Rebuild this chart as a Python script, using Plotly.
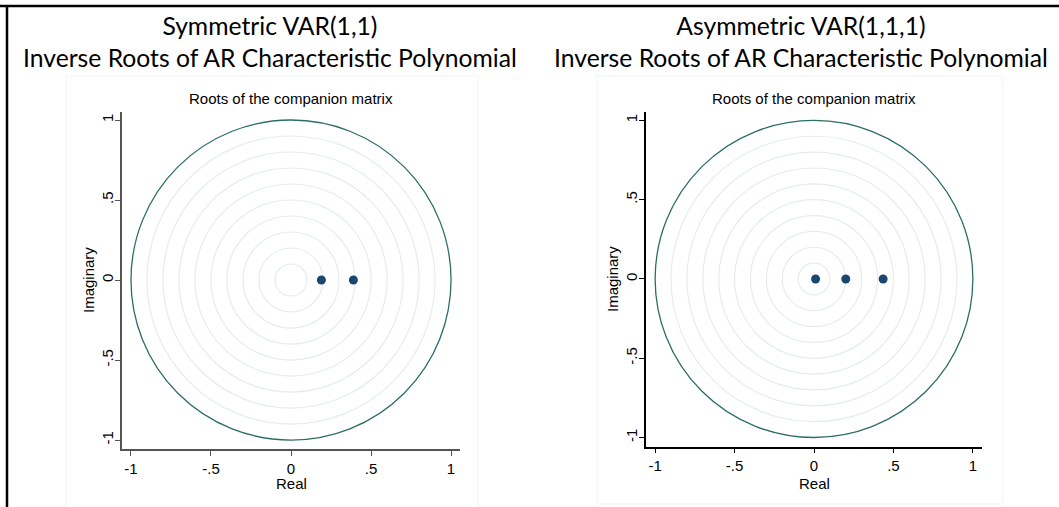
import plotly.graph_objects as go

W, H = 1059, 507

# ---- data ----
panel_titles = ["Symmetric VAR(1,1)<br>Inverse Roots of AR Characteris<span style='color:#000000'>t</span>ic Polynomial",
                "Asymmetric VAR(1,1,1)<br>Inverse Roots of AR Characteris<span style='color:#000000'>t</span>ic Polynomial"]
subtitle = "Roots of the companion matrix"
sym_real = [0.19, 0.39]
sym_imag = [0.0, 0.0]
asym_real = [0.01, 0.20, 0.435]
asym_imag = [0.0, 0.0, 0.0]
grid_radii = [0.1, 0.2, 0.3, 0.4, 0.5, 0.6, 0.7, 0.8, 0.9]
unit_radius = 1.0
tick_vals = [-1, -0.5, 0, 0.5, 1]
tick_text = ["-1", "-.5", "0", ".5", "1"]

# ---- helpers (pixel -> paper) ----
def px(x):
    return x / W

def py(y):
    return 1 - y / H

NAVY = "#1a476f"
TEAL = "#2a6e66"
LIGHT = "#e4eded"
FONT = "Liberation Sans, Arial, sans-serif"

fig = go.Figure()

fig.add_trace(go.Scatter(x=sym_real, y=sym_imag, mode="markers",
                         marker=dict(color=NAVY, size=9), xaxis="x", yaxis="y",
                         showlegend=False, hoverinfo="x+y"))
fig.add_trace(go.Scatter(x=asym_real, y=asym_imag, mode="markers",
                         marker=dict(color=NAVY, size=9), xaxis="x2", yaxis="y2",
                         showlegend=False, hoverinfo="x+y"))

panels = [
    ("x", "y", (122, 460), (112, 449), [-1.056, 1.056], [-1.056, 1.05], "#555555"),
    ("x2", "y2", (645.6, 982.4), (111.7, 446.7), [-1.06, 1.06], [-1.058, 1.055], "#000000"),
]

layout_axes = {}
shapes = []
annotations = []
for i, (xa, ya, xd, yd, xr, yr, acol) in enumerate(panels):
    xkey = "xaxis" if xa == "x" else "xaxis2"
    ykey = "yaxis" if ya == "y" else "yaxis2"
    layout_axes[xkey] = dict(domain=[px(xd[0]), px(xd[1])], range=xr, anchor=ya,
                             showgrid=False, zeroline=False, showline=True,
                             linecolor=acol, linewidth=1.5, ticks="outside", ticklen=5,
                             tickcolor=acol, tickwidth=1.2,
                             tickvals=tick_vals, ticktext=tick_text,
                             tickfont=dict(family=FONT, size=15, color="#000"),
                             fixedrange=True)
    layout_axes[ykey] = dict(domain=[py(yd[1]), py(yd[0])], range=yr, anchor=xa,
                             showgrid=False, zeroline=False, showline=True,
                             linecolor=acol, linewidth=1.5, ticks="outside", ticklen=5,
                             tickcolor=acol, tickwidth=1.2,
                             tickvals=tick_vals, ticktext=tick_text, tickangle=-90,
                             ticklabelstandoff=-4,
                             tickfont=dict(family=FONT, size=15, color="#000"),
                             fixedrange=True)
    for r in grid_radii:
        shapes.append(dict(type="circle", xref=xa, yref=ya, x0=-r, x1=r, y0=-r, y1=r,
                           line=dict(color=LIGHT, width=1.2), layer="below"))
    shapes.append(dict(type="circle", xref=xa, yref=ya, x0=-unit_radius, x1=unit_radius,
                       y0=-unit_radius, y1=unit_radius,
                       line=dict(color=TEAL, width=1.3), layer="below"))

# faint panel boxes
shapes.append(dict(type="rect", xref="paper", yref="paper", x0=px(66), x1=px(478),
                   y0=py(510), y1=py(76), line=dict(color="#eef3f4", width=1)))
shapes.append(dict(type="rect", xref="paper", yref="paper", x0=px(597), x1=px(1003),
                   y0=py(504), y1=py(76), line=dict(color="#eef3f4", width=1)))
# outer frame lines (top and left)
shapes.append(dict(type="line", xref="paper", yref="paper", x0=0, x1=1,
                   y0=py(6), y1=py(6), line=dict(color="#000", width=2.5)))
shapes.append(dict(type="line", xref="paper", yref="paper", x0=px(7), x1=px(7),
                   y0=py(6), y1=0, line=dict(color="#000", width=2.5)))

title_centers = [270, 801]
sub_centers = [291, 814]
real_centers = [291, 814]
imag_x = [88, 612]
imag_y = [280, 279]
for i in range(2):
    annotations.append(dict(text=panel_titles[i], xref="paper", yref="paper",
                            x=px(title_centers[i]), y=py(42), xanchor="center", yanchor="middle",
                            showarrow=False, align="center",
                            font=dict(family="Lato, Carlito, sans-serif", size=24.7, color="#000")))
    annotations.append(dict(text=subtitle, xref="paper", yref="paper",
                            x=px(sub_centers[i]), y=py(98), xanchor="center", yanchor="middle",
                            showarrow=False, font=dict(family=FONT, size=15, color="#000")))
    annotations.append(dict(text="Real", xref="paper", yref="paper",
                            x=px(real_centers[i]), y=py(483), xanchor="center", yanchor="middle",
                            showarrow=False, font=dict(family=FONT, size=15, color="#000")))
    annotations.append(dict(text="Imaginary", xref="paper", yref="paper",
                            x=px(imag_x[i]), y=py(imag_y[i]), xanchor="center", yanchor="middle",
                            textangle=-90, showarrow=False,
                            font=dict(family=FONT, size=15, color="#000")))

fig.update_layout(width=W, height=H, margin=dict(l=0, r=0, t=0, b=0),
                  paper_bgcolor="white", plot_bgcolor="white",
                  shapes=shapes, annotations=annotations, showlegend=False,
                  **layout_axes)

fig.write_html("out.html", config={"displayModeBar": False},
               post_script="document.body.style.margin='0';document.body.style.overflow='hidden';")
